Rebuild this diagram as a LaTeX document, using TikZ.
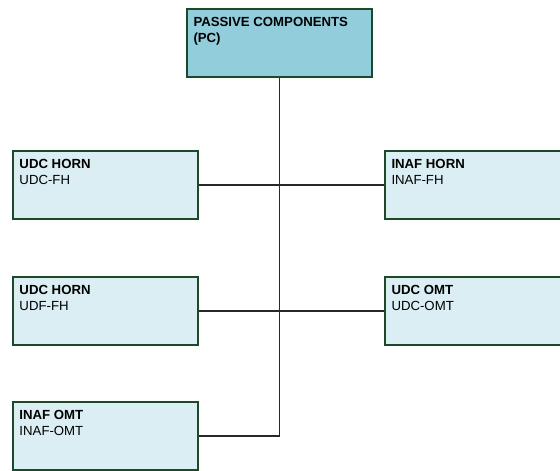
\documentclass[tikz,border=0pt]{standalone}
\usepackage{fontspec}
\setmainfont{Liberation Sans}
\definecolor{boxborder}{RGB}{30,72,42}
\definecolor{topfill}{RGB}{146,205,220}
\definecolor{subfill}{RGB}{218,238,243}
\definecolor{linkcol}{RGB}{40,40,40}
\newcommand{\boxtext}[2]{\parbox[t][68pt][t]{172pt}{\fontsize{13.2}{16}\selectfont\rule{0pt}{17.5pt}\textbf{#1}\\#2}}
\tikzset{
  orgbox/.style={draw=boxborder, line width=2pt, inner sep=0pt, inner xsep=6.5pt, anchor=north west, fill=subfill},
  topbox/.style={orgbox, fill=topfill},
  link/.style={draw=linkcol, line width=1.3pt}
}
\begin{document}
\begin{tikzpicture}[x=1pt,y=-1pt]
\useasboundingbox (0,0) rectangle (560,471);
\clip (0,0) rectangle (560,471);
\node[topbox] (pc) at (186,8) {\boxtext{PASSIVE COMPONENTS}{\textbf{(PC)}}};
\node[orgbox] (l1) at (12,150) {\boxtext{UDC HORN}{UDC-FH}};
\node[orgbox] (l2) at (12,276) {\boxtext{UDC HORN}{UDF-FH}};
\node[orgbox] (l3) at (12,401) {\boxtext{INAF OMT}{INAF-OMT}};
\node[orgbox] (r1) at (384,150) {\boxtext{INAF HORN}{INAF-FH}};
\node[orgbox] (r2) at (384,276) {\boxtext{UDC OMT}{UDC-OMT}};
\coordinate (bend) at (pc.south |- l3.east);
\draw[link] (pc.south) -- (bend) -- (l3.east);
\draw[link] (l1.east) -- (r1.west);
\draw[link] (l2.east) -- (r2.west);
\end{tikzpicture}
\end{document}
